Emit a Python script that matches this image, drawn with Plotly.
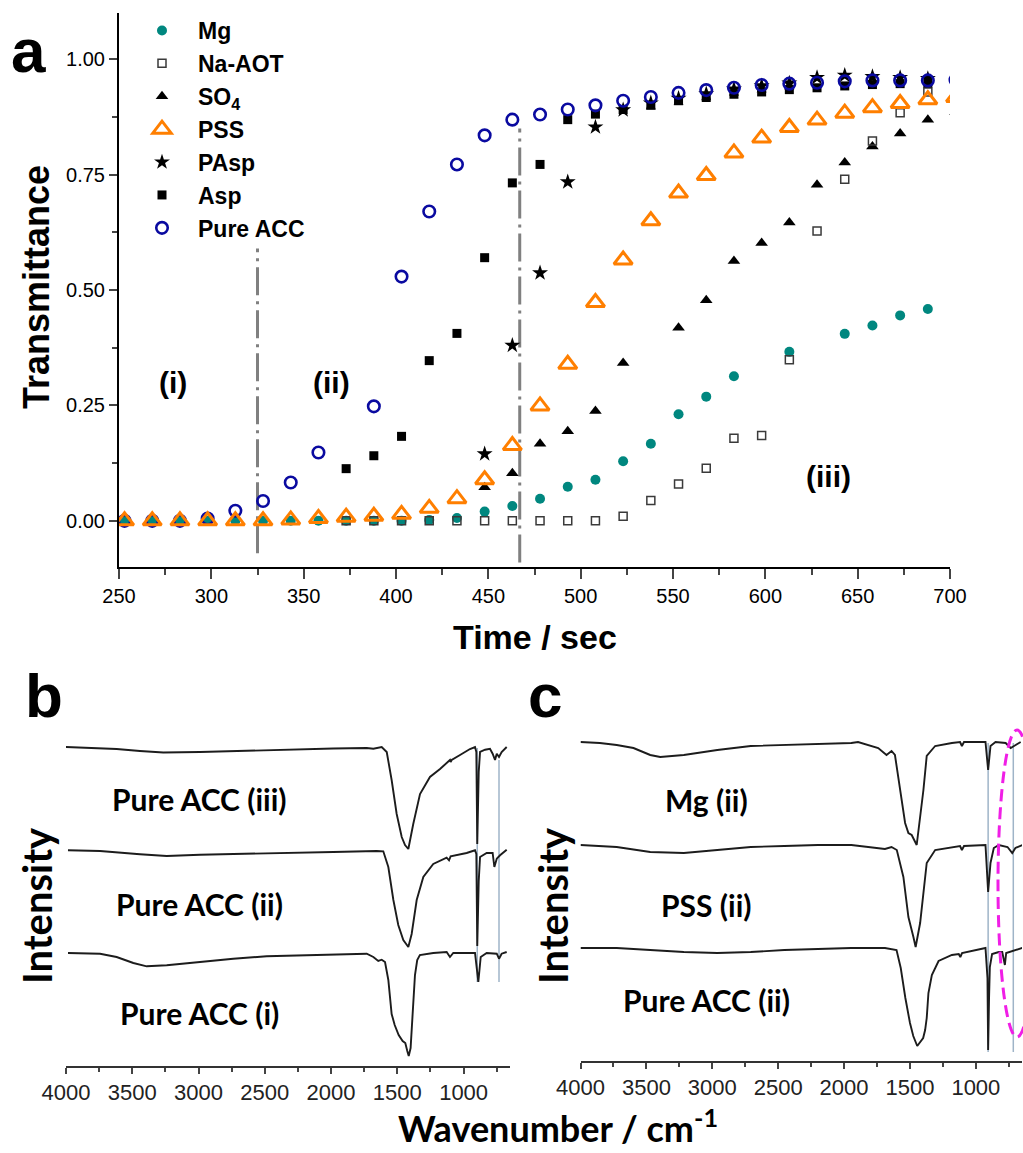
import plotly.graph_objects as go

W, H = 1023, 1153
def px(x): return x / W
def py(y): return 1 - y / H

ARIAL = "Liberation Sans, Arial, sans-serif"
CAL = "Lato, Carlito, Calibri, sans-serif"
NARROW = "Liberation Sans Narrow, Liberation Sans, Arial, sans-serif"

# ---------------- Panel a : transmittance vs time ----------------
mg_t = [253, 268, 283, 298, 313, 328, 343, 358, 373, 388, 403, 418, 433, 448, 463, 478, 493, 508,
        523, 538, 553, 568, 583, 613, 643, 658, 673, 688, 703]
mg_v = [0, 0, 0, 0, 0, 0, 0, 0, 0, 0, 0, 0.002, 0.006, 0.02, 0.032, 0.048, 0.074, 0.089,
        0.129, 0.167, 0.231, 0.269, 0.313, 0.366, 0.405, 0.423, 0.445, 0.459, 0.47]

na_t = [373, 388, 403, 418, 433, 448, 463, 478, 493, 508, 523, 538, 553, 568, 583, 598, 613,
        628, 643, 658, 673, 688]
na_v = [0, 0, 0, 0, 0, 0, 0, 0, 0, 0, 0.01, 0.044, 0.08, 0.114, 0.179, 0.185, 0.349,
        0.628, 0.74, 0.823, 0.884, 0.929]

so4_t = [448, 463, 478, 493, 508, 523, 553, 568, 583, 598, 613, 628, 643, 658, 673, 688, 703]
so4_v = [0.073, 0.103, 0.167, 0.194, 0.238, 0.342, 0.418, 0.478, 0.563, 0.602, 0.646, 0.728,
         0.776, 0.811, 0.839, 0.869, 0.885]

pss_t = [253, 268, 283, 298, 313, 328, 343, 358, 373, 388, 403, 418, 433, 448, 463, 478, 493,
         508, 523, 538, 553, 568, 583, 598, 613, 628, 643, 658, 673, 688, 703]
pss_v = [0, 0, 0, 0, 0, 0, 0.002, 0.005, 0.008, 0.01, 0.014, 0.027, 0.048, 0.089, 0.163, 0.249,
         0.339, 0.473, 0.565, 0.65, 0.71, 0.748, 0.797, 0.829, 0.852, 0.868, 0.883, 0.895,
         0.904, 0.912, 0.917]

pasp_t = [448, 463, 478, 493, 508, 523, 538, 553, 568, 583, 598, 613, 628, 643, 658, 673, 688]
pasp_v = [0.145, 0.38, 0.537, 0.734, 0.853, 0.89, 0.905, 0.915, 0.925, 0.935, 0.942, 0.948,
          0.96, 0.965, 0.962, 0.96, 0.958]

asp_t = [373, 388, 403, 418, 433, 448, 463, 478, 493, 508, 523, 538, 553, 568, 583, 598, 613,
         628, 643, 658, 673, 688]
asp_v = [0.113, 0.141, 0.183, 0.347, 0.406, 0.57, 0.732, 0.772, 0.869, 0.881, 0.891, 0.9, 0.91,
         0.917, 0.924, 0.929, 0.934, 0.938, 0.942, 0.945, 0.947, 0.948]

acc_t = [253, 268, 283, 298, 313, 328, 343, 358, 388, 403, 418, 433, 448, 463, 478, 493, 508,
         523, 538, 553, 568, 583, 598, 613, 628, 643, 658, 673, 688, 703]
acc_v = [0, 0, 0, 0.005, 0.022, 0.043, 0.083, 0.148, 0.248, 0.529, 0.67, 0.772, 0.835, 0.869,
         0.88, 0.891, 0.9, 0.91, 0.918, 0.927, 0.933, 0.938, 0.944, 0.947, 0.949, 0.952, 0.954,
         0.954, 0.954, 0.955]

region_t = [325, 467]          # boundaries between stages
region_lo = [-0.07, -0.09]
region_hi = [0.59, 0.85]
stage_labels = ["(i)", "(ii)", "(iii)"]
stage_t = [279, 365, 634]
stage_v = [0.30, 0.30, 0.095]

x_ticks_a = [250, 300, 350, 400, 450, 500, 550, 600, 650, 700]
y_ticks_a = [0.0, 0.25, 0.5, 0.75, 1.0]

# ---------------- Panels b, c : FTIR spectra ----------------
b3_wn = [4000, 3794, 3618, 3442, 3266, 2989, 2738, 2486, 2234, 1983, 1731, 1681, 1618, 1580,
         1543, 1505, 1467, 1442, 1417, 1380, 1329, 1254, 1178, 1103, 1098, 1090, 1027, 952,
         914, 904, 897, 886, 876, 838, 801, 781, 763, 750, 733, 713, 675]
b3_v = [0, -0.01, -0.02, -0.04, -0.055, -0.05, -0.04, -0.03, -0.02, -0.015, -0.01, -0.017, 0,
        -0.05, -0.33, -0.67, -0.9, -0.98, -1.02, -0.77, -0.47, -0.3, -0.22, -0.13, -0.15, -0.13,
        -0.08, -0.02, 0, -0.05, -0.97, -0.25, -0.05, -0.027, -0.017, -0.067, -0.13, -0.067,
        -0.1, -0.05, 0]

b2_wn = [3985, 3743, 3442, 3240, 2989, 2486, 1983, 1656, 1606, 1568, 1530, 1493, 1455, 1417,
         1392, 1354, 1304, 1229, 1128, 1110, 1098, 977, 914, 904, 897, 886, 876, 826, 781, 768,
         750, 725, 675]
b2_v = [0.007, 0, -0.033, -0.05, -0.037, -0.02, -0.01, 0, -0.003, -0.16, -0.49, -0.74, -0.89,
        -0.96, -0.83, -0.49, -0.26, -0.13, -0.067, -0.093, -0.053, -0.02, 0.007, -0.03, -0.95,
        -0.3, -0.06, -0.02, -0.02, -0.16, -0.077, -0.043, 0.013]

b1_wn = [3985, 3743, 3618, 3492, 3391, 3240, 2989, 2738, 2486, 1983, 1731, 1681, 1644, 1618,
         1593, 1568, 1543, 1520, 1490, 1460, 1440, 1425, 1414, 1400, 1390, 1380, 1367, 1350,
         1330, 1229, 1128, 1103, 1078, 977, 914, 889, 871, 826, 750, 733, 713, 675]
b1_v = [0, -0.007, -0.04, -0.1, -0.133, -0.123, -0.09, -0.057, -0.033, -0.013, -0.007, -0.04,
        -0.08, -0.067, -0.09, -0.27, -0.61, -0.72, -0.82, -0.88, -0.9, -0.98, -1.03, -0.95,
        -0.75, -0.55, -0.22, -0.07, -0.02, 0, 0.01, -0.04, 0, 0, 0, -0.29, -0.04, 0, -0.007,
        -0.057, -0.007, 0.01]

c_mg_wn = [4000, 3853, 3725, 3598, 3471, 3395, 3216, 2962, 2708, 2453, 2199, 1945, 1894, 1741,
           1678, 1640, 1614, 1576, 1537, 1512, 1487, 1449, 1398, 1373, 1309, 1182, 1120, 1106,
           1090, 927, 907, 889, 851, 774, 736, 698, 660]
c_mg_v = [0, -0.01, -0.03, -0.06, -0.13, -0.15, -0.13, -0.08, -0.04, -0.03, -0.02, -0.01, 0,
          -0.06, -0.13, -0.09, -0.13, -0.48, -0.81, -0.91, -0.93, -1.03, -0.48, -0.14, -0.04,
          -0.01, 0, -0.04, 0, 0, -0.28, -0.04, 0, -0.01, -0.06, -0.03, 0]

c_pss_wn = [4000, 3725, 3471, 3300, 3216, 2962, 2708, 2453, 2199, 1945, 1741, 1690, 1640, 1600,
            1550, 1512, 1474, 1457, 1423, 1398, 1373, 1309, 1182, 1120, 1106, 1090, 927, 907,
            889, 864, 826, 760, 724, 700, 648]
c_pss_v = [0, -0.02, -0.07, -0.08, -0.08, -0.05, -0.02, -0.01, 0, 0, -0.03, -0.04, -0.02,
           -0.05, -0.32, -0.72, -0.92, -1.02, -0.78, -0.45, -0.18, -0.05, -0.02, -0.01, -0.05,
           -0.01, 0, -0.47, -0.18, -0.03, 0, -0.02, -0.08, -0.03, 0]

c_acc_wn = [4000, 3725, 3471, 3216, 2962, 2708, 2453, 2199, 1945, 1690, 1602, 1570, 1535, 1500,
            1475, 1445, 1420, 1400, 1385, 1373, 1360, 1334, 1283, 1182, 1130, 1118, 1105, 1004,
            927, 912, 907, 900, 894, 877, 826, 800, 780, 770, 720, 686, 648]
c_acc_v = [0, 0, -0.02, -0.04, -0.05, -0.04, -0.02, -0.01, 0, 0, -0.02, -0.2, -0.5, -0.75,
           -0.88, -0.98, -0.93, -0.9, -0.82, -0.7, -0.45, -0.27, -0.13, -0.07, -0.06, -0.09,
           -0.05, -0.02, 0, -0.3, -1.02, -0.5, -0.19, -0.06, -0.04, -0.04, -0.17, -0.05, -0.03,
           -0.02, 0]

b_offsets = [3.19, 2.15, 1.13]
c_offsets = [3.19, 2.16, 1.13]
b_labels = ["Pure ACC (iii)", "Pure ACC (ii)", "Pure ACC (i)"]
c_labels = ["Mg (ii)", "PSS (ii)", "Pure ACC (ii)"]
b_marks = [897, 733]
b_marks_lo = [0.84, 0.84]
b_marks_hi = [3.18, 3.06]
c_marks = [907, 716]
c_marks_lo = [0.09, 0.09]
c_marks_hi = [3.18, 3.18]
wn_ticks = [4000, 3500, 3000, 2500, 2000, 1500, 1000]

fig = go.Figure()

# drawing order (bottom -> top); legend order via legendrank
series = [
    ("Mg", mg_t, mg_v, dict(symbol="circle", size=10, color="#00877f"), 1),
    ("SO<sub>4</sub>", so4_t, so4_v, dict(symbol="triangle-up", size=11, color="black"), 3),
    ("Na-AOT", na_t, na_v, dict(symbol="square-open", size=8, color="#3a3a3a",
                                line=dict(width=1.5, color="#3a3a3a")), 2),
    ("Asp", asp_t, asp_v, dict(symbol="square", size=9, color="black"), 6),
    ("PAsp", pasp_t, pasp_v, dict(symbol="star", size=12, color="black"), 5),
    ("Pure ACC", acc_t, acc_v, dict(symbol="circle-open", size=11.5, color="#0a0aa0",
                                    line=dict(width=2.6, color="#0a0aa0")), 7),
    ("PSS", pss_t, pss_v, dict(symbol="triangle-up-open", size=16, color="#ff7f00",
                               line=dict(width=3, color="#ff7f00")), 4),
]
for name, t, v, mk, rank in series:
    fig.add_trace(go.Scatter(x=t, y=v, mode="markers", name=name, marker=mk,
                             legendrank=rank, xaxis="x", yaxis="y", cliponaxis=True))

# spectra
for wn, vals, off in zip([b3_wn, b2_wn, b1_wn], [b3_v, b2_v, b1_v], b_offsets):
    fig.add_trace(go.Scatter(x=wn, y=[v + off for v in vals], mode="lines",
                             line=dict(color="#1c1c1c", width=1.9), showlegend=False,
                             xaxis="x2", yaxis="y2"))
for wn, vals, off in zip([c_mg_wn, c_pss_wn, c_acc_wn], [c_mg_v, c_pss_v, c_acc_v], c_offsets):
    fig.add_trace(go.Scatter(x=wn, y=[v + off for v in vals], mode="lines",
                             line=dict(color="#1c1c1c", width=1.9), showlegend=False,
                             xaxis="x3", yaxis="y3"))

shapes = []
for t, lo, hi in zip(region_t, region_lo, region_hi):
    shapes.append(dict(type="line", xref="x", yref="y", x0=t, x1=t, y0=lo, y1=hi,
                       line=dict(color="#808080", width=3, dash="28px,6px,3px,6px"),
                       layer="below"))
for w, lo, hi in zip(b_marks, b_marks_lo, b_marks_hi):
    shapes.append(dict(type="line", xref="x2", yref="y2", x0=w, x1=w, y0=lo, y1=hi,
                       line=dict(color="#9fb4c8", width=1.5), layer="below"))
for w, lo, hi in zip(c_marks, c_marks_lo, c_marks_hi):
    shapes.append(dict(type="line", xref="x3", yref="y3", x0=w, x1=w, y0=lo, y1=hi,
                       line=dict(color="#9fb4c8", width=1.5), layer="below"))
shapes.append(dict(type="circle", xref="paper", yref="paper",
                   x0=px(998), x1=px(1036), y0=py(1037), y1=py(730),
                   line=dict(color="#f01ee6", width=3, dash="12px,6px")))

ann = []
def text(x, y, s, size, family=ARIAL, angle=0, xref="paper", yref="paper"):
    ann.append(dict(x=x, y=y, xref=xref, yref=yref, text=s, showarrow=False,
                    font=dict(family=family, size=size, color="black"),
                    textangle=angle, xanchor="center", yanchor="middle"))

text(px(28), py(51), "<b>a</b>", 62)
text(px(44), py(695), "<b>b</b>", 62)
text(px(545), py(695), "<b>c</b>", 62)
text(px(36), py(287), "<b>Transmittance</b>", 36, angle=-90)
text(px(535), py(637), "<b>Time / sec</b>", 34)
for s, t, v in zip(stage_labels, stage_t, stage_v):
    text(t, v, "<b>" + s + "</b>", 30, xref="x", yref="y")
b_label_y = [799, 904, 1013]
for lab, yy in zip(b_labels, b_label_y):
    text(px(199), py(yy), "<b>" + lab + "</b>", 30, family=CAL)
c_label_y = [800, 905, 1000]
for lab, yy in zip(c_labels, c_label_y):
    text(px(706), py(yy), "<b>" + lab + "</b>", 30, family=CAL)
text(px(37), py(906), "<b>Intensity</b>", 40, family=CAL, angle=-90)
text(px(553), py(906), "<b>Intensity</b>", 40, family=CAL, angle=-90)
text(px(558), py(1126), "<b>Wavenumber / cm<sup>-1</sup></b>", 36, family=CAL)

axis_common = dict(automargin=False, showgrid=False, zeroline=False, showline=True)

fig.update_layout(
    width=W, height=H, margin=dict(l=0, r=0, t=0, b=0, autoexpand=False),
    paper_bgcolor="white", plot_bgcolor="white",
    showlegend=True,
    legend=dict(x=px(126), y=py(9), xanchor="left", yanchor="top", itemwidth=62,
                bgcolor="rgba(0,0,0,0)", itemsizing="trace", traceorder="normal",
                font=dict(family=ARIAL, size=23, color="black", weight="bold")),
    xaxis=dict(domain=[px(119), px(950)], range=[250, 700], anchor="y",
               tickvals=x_ticks_a, ticks="outside", ticklen=10, tickwidth=2,
               linecolor="black", linewidth=2,
               tickfont=dict(family=ARIAL, size=20, color="black"),
               minor=dict(ticks="outside", dtick=25, tick0=250, ticklen=6, tickwidth=2),
               **axis_common),
    yaxis=dict(domain=[py(567), py(13)], range=[-0.1, 1.1], anchor="x",
               tickvals=y_ticks_a, tickformat=".2f", ticks="outside", ticklen=8, tickwidth=2,
               linecolor="black", linewidth=2,
               tickfont=dict(family=ARIAL, size=20, color="black"),
               minor=dict(ticks="outside", dtick=0.125, tick0=0, ticklen=5, tickwidth=2),
               **axis_common),
    xaxis2=dict(domain=[px(66), px(510)], range=[4000, 650], anchor="y2",
                tickvals=wn_ticks, ticks="outside", ticklen=6, tickwidth=1.5,
                linecolor="#333", linewidth=1.5,
                tickfont=dict(family=NARROW, size=22, color="#222"),
                minor=dict(ticks="outside", dtick=250, tick0=0, ticklen=4, tickwidth=1.5),
                **axis_common),
    yaxis2=dict(domain=[py(1066), py(730)], range=[0, 3.36], anchor="x2", visible=False,
                automargin=False),
    xaxis3=dict(domain=[px(580.5), px(1022)], range=[4000, 650], anchor="y3",
                tickvals=wn_ticks, ticks="outside", ticklen=6, tickwidth=1.5,
                linecolor="#333", linewidth=1.5,
                tickfont=dict(family=NARROW, size=22, color="#222"),
                minor=dict(ticks="outside", dtick=250, tick0=0, ticklen=4, tickwidth=1.5),
                **axis_common),
    yaxis3=dict(domain=[py(1061), py(730)], range=[0, 3.31], anchor="x3", visible=False,
                automargin=False),
    shapes=shapes, annotations=ann,
)

fig.write_html("out.html")
